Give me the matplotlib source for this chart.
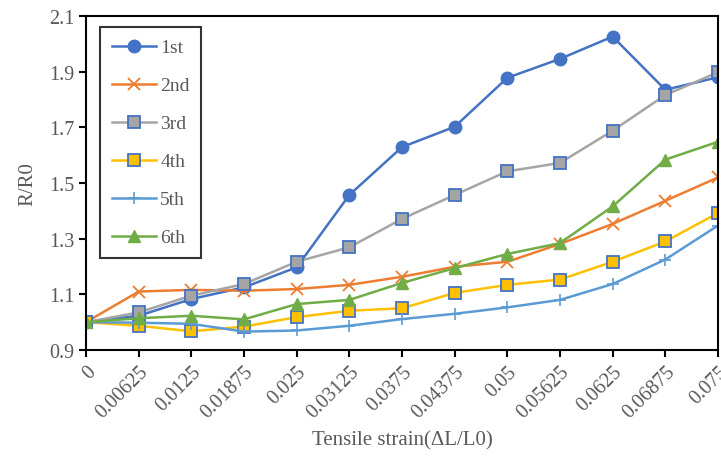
import matplotlib
matplotlib.use("Agg")
import matplotlib.pyplot as plt
import numpy as np

plt.rcParams['font.family'] = ['Liberation Serif', 'DejaVu Serif']

# strain categories (evenly spaced labels)
strain_labels = ["0", "0.00625", "0.0125", "0.01875", "0.025", "0.03125", "0.0375",
                 "0.04375", "0.05", "0.05625", "0.0625", "0.06875", "0.075"]

r1 = [1.0, 1.023, 1.083, 1.125, 1.197, 1.457, 1.629, 1.702, 1.878, 1.946, 2.026, 1.835, 1.880]
r2 = [1.0, 1.110, 1.116, 1.113, 1.119, 1.134, 1.163, 1.199, 1.217, 1.281, 1.353, 1.436, 1.520]
r3 = [1.0, 1.035, 1.095, 1.137, 1.217, 1.269, 1.371, 1.457, 1.542, 1.572, 1.688, 1.816, 1.898]
r4 = [1.0, 0.987, 0.967, 0.984, 1.018, 1.041, 1.050, 1.105, 1.134, 1.153, 1.217, 1.290, 1.392]
r5 = [1.0, 0.998, 0.994, 0.966, 0.970, 0.987, 1.011, 1.030, 1.053, 1.080, 1.137, 1.225, 1.347]
r6 = [1.0, 1.014, 1.023, 1.010, 1.065, 1.080, 1.141, 1.194, 1.245, 1.284, 1.416, 1.584, 1.648]

edge_blue = "#4472C4"
series = [
    ("1st", r1, dict(color="#4472C4", marker="o", markersize=9)),
    ("2nd", r2, dict(color="#ED7D31", marker="x", markersize=8, markeredgewidth=1.3)),
    ("3rd", r3, dict(color="#A5A5A5", marker="s", markersize=8.5, markeredgecolor=edge_blue, markeredgewidth=1.3)),
    ("4th", r4, dict(color="#FFC000", marker="s", markersize=8.5, markeredgecolor=edge_blue, markeredgewidth=1.3)),
    ("5th", r5, dict(color="#5B9BD5", marker="+", markersize=9, markeredgewidth=1.2)),
    ("6th", r6, dict(color="#70AD47", marker="^", markersize=9)),
]

fig = plt.figure(figsize=(7.21, 4.6), dpi=100)
ax = fig.add_axes([0.1193, 0.237, 0.8765, 0.726])

x = np.arange(len(strain_labels))
for name, vals, style in series:
    ax.plot(x, vals, label=name, linewidth=1.8, **style)

ax.set_xlim(0, len(strain_labels) - 1)
ax.set_ylim(0.9, 2.1)
ax.set_yticks(np.arange(0.9, 2.11, 0.2))
ax.set_yticklabels([f"{v:.1f}" for v in np.arange(0.9, 2.11, 0.2)])
ax.set_xticks(x)
ax.set_xticklabels(strain_labels, rotation=45, ha="right", rotation_mode="anchor")

gray = "#595959"
ax.tick_params(axis="both", labelsize=14.5, colors="black", labelcolor=gray,
               direction="out", length=5, width=1.5)
for s in ax.spines.values():
    s.set_linewidth(1.5)
    s.set_color("black")

ax.set_ylabel("R/R0", fontsize=15, color=gray, labelpad=8)
ax.set_xlabel("Tensile strain(ΔL/L0)", fontsize=15, color=gray, labelpad=6)

leg = ax.legend(loc="upper left", bbox_to_anchor=(0.022, 0.967), borderaxespad=0,
                fontsize=14, frameon=True, fancybox=False, edgecolor="black",
                labelspacing=1.05, handlelength=2.3, borderpad=0.6,
                handletextpad=0.2)
leg.get_frame().set_linewidth(1.5)
for t in leg.get_texts():
    t.set_color(gray)

fig.savefig("out.png", dpi=100)
